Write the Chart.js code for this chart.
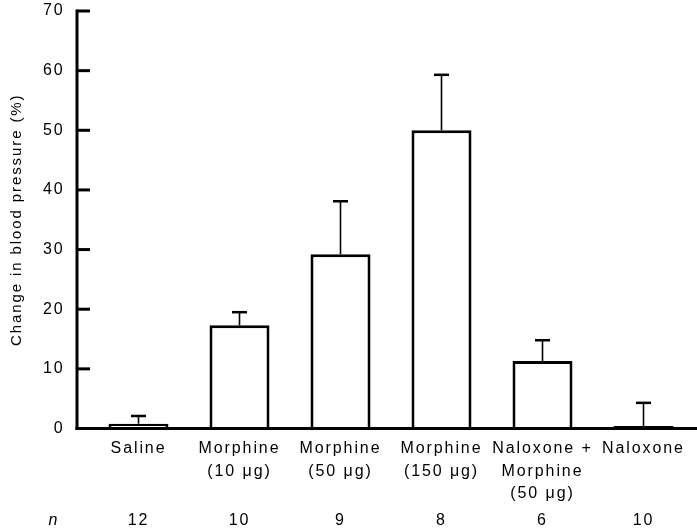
<!DOCTYPE html>
<html><head><meta charset="utf-8">
<script src="https://cdn.jsdelivr.net/npm/chart.js@4.4.0/dist/chart.umd.min.js"></script>
<style>html,body{margin:0;padding:0;background:#fff;}</style>
</head><body>
<canvas id="c" width="697" height="531"></canvas>
<script>
const categories = [["Saline"], ["Morphine", "(10 μg)"], ["Morphine", "(50 μg)"], ["Morphine", "(150 μg)"], ["Naloxone +", "Morphine", "(50 μg)"], ["Naloxone"]];
const meanChange = [0.8, 17.3, 29.2, 50.0, 11.3, 0.4];
const errorUpper = [1.3, 2.2, 8.9, 9.3, 3.5, 3.9];
const nValues = ["12", "10", "9", "8", "6", "10"];
const yMin = 0, yMax = 70, yStep = 10;

const FONT = "'Liberation Sans', Arial, Helvetica, sans-serif";
const SPACING = '1.9px';

const spacingPlugin = {
  id: 'spacing',
  beforeDraw(chart) { chart.ctx.letterSpacing = SPACING; }
};

const decorPlugin = {
  id: 'decor',
  afterDatasetsDraw(chart) {
    const ctx = chart.ctx;
    const xs = chart.scales.x, ys = chart.scales.y;
    const meta = chart.getDatasetMeta(0);
    ctx.save();
    ctx.strokeStyle = '#000';
    meta.data.forEach((bar, i) => {
      const yTop = ys.getPixelForValue(meanChange[i] + errorUpper[i]);
      ctx.lineWidth = 1.6;
      ctx.beginPath();
      ctx.moveTo(bar.x, bar.y);
      ctx.lineTo(bar.x, yTop);
      ctx.stroke();
      ctx.lineWidth = 2.5;
      ctx.beginPath();
      ctx.moveTo(bar.x - 7.5, yTop);
      ctx.lineTo(bar.x + 7.5, yTop);
      ctx.stroke();
    });
    const axX = 77;
    const y0 = ys.getPixelForValue(yMin);
    const yTopAx = ys.getPixelForValue(yMax);
    ctx.lineWidth = 3;
    ctx.lineCap = 'butt';
    ctx.beginPath();
    ctx.moveTo(axX, yTopAx - 1.5);
    ctx.lineTo(axX, y0 + 1.5);
    ctx.stroke();
    ctx.beginPath();
    ctx.moveTo(axX - 1.5, y0);
    ctx.lineTo(chart.width, y0);
    ctx.stroke();
    ys.ticks.forEach(t => {
      const py = ys.getPixelForValue(t.value);
      ctx.beginPath();
      ctx.moveTo(axX, py);
      ctx.lineTo(axX + 13, py);
      ctx.stroke();
    });
    ctx.fillStyle = '#000';
    ctx.textAlign = 'center';
    ctx.textBaseline = 'middle';
    ctx.letterSpacing = SPACING;
    ctx.font = "italic 16px " + FONT;
    ctx.fillText('n', 54, 521);
    ctx.font = "16px " + FONT;
    nValues.forEach((v, i) => {
      ctx.fillText(v, xs.getPixelForValue(i), 521);
    });
    ctx.restore();
  }
};

new Chart(document.getElementById('c'), {
  type: 'bar',
  data: {
    labels: categories,
    datasets: [{
      data: meanChange,
      backgroundColor: '#fff',
      borderColor: '#000',
      borderWidth: 3,
      borderSkipped: 'bottom',
      barPercentage: 0.594,
      categoryPercentage: 1.0
    }]
  },
  options: {
    responsive: false,
    devicePixelRatio: 1,
    animation: false,
    layout: { padding: { top: 11, right: 3, left: 0, bottom: 0 } },
    plugins: { legend: { display: false }, tooltip: { enabled: false } },
    scales: {
      x: {
        grid: { display: false, drawTicks: false },
        border: { display: false },
        ticks: {
          color: '#000',
          font: { family: FONT, size: 16, lineHeight: 1.4 },
          padding: 9,
          maxRotation: 0,
          autoSkip: false
        },
        afterFit(s) { s.height = 102.5; s.paddingLeft = 0; s.paddingRight = 0; }
      },
      y: {
        min: yMin, max: yMax,
        grid: { display: false, drawTicks: false },
        border: { display: false },
        ticks: {
          stepSize: yStep,
          color: '#000',
          font: { family: FONT, size: 16 },
          padding: 23.5
        },
        title: {
          display: true,
          text: 'Change in blood pressure (%)',
          color: '#000',
          font: { family: FONT, size: 15 },
          padding: { top: 8, bottom: 0 }
        },
        afterFit(s) { s.width = 88; s.paddingTop = 0; s.paddingBottom = 0; }
      }
    }
  },
  plugins: [spacingPlugin, decorPlugin]
});
</script>
</body></html>
